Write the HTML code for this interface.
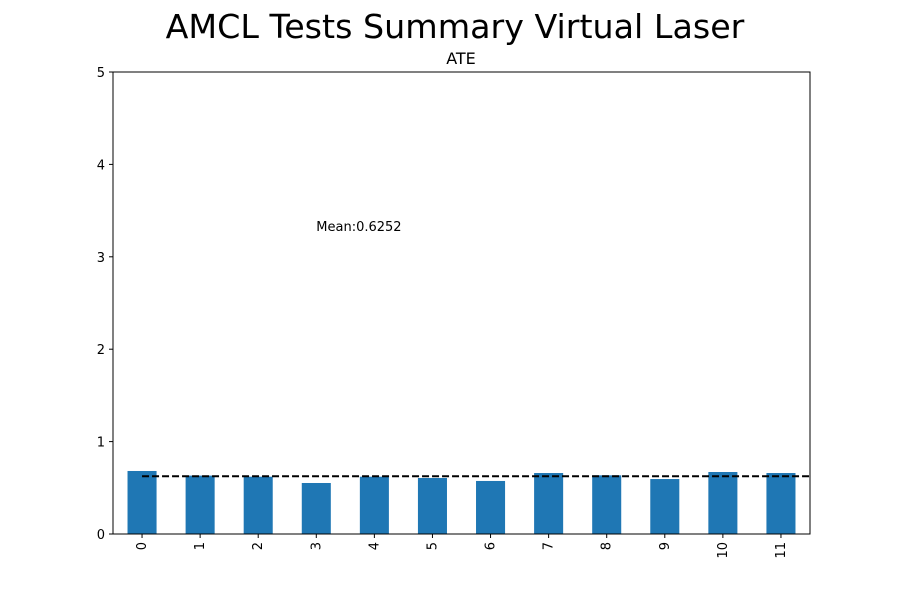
<!DOCTYPE html>
<html><head><meta charset="utf-8"><style>
body{margin:0;background:#fff;}
svg{font-family:"DejaVu Sans","Liberation Sans",sans-serif;}
</style></head><body>
<svg id="c" width="900" height="600"></svg>
<script>
const categories=["0","1","2","3","4","5","6","7","8","9","10","11"];
const ateValues=[0.682,0.632,0.620,0.552,0.620,0.606,0.574,0.660,0.635,0.595,0.671,0.660];
const meanValue=0.6252;
const yTicks=[0,1,2,3,4,5];
const NS="http://www.w3.org/2000/svg";
const svg=document.getElementById('c');
const L=113,R=810,T=72,B=534,ymax=5;
const band=(R-L)/categories.length;
const x=i=>L+band*(i+0.5);
const y=v=>B-(v/ymax)*(B-T);
function el(t,a,p){const e=document.createElementNS(NS,t);for(const k in a)e.setAttribute(k,a[k]);(p||svg).appendChild(e);return e;}
let t=el('text',{x:455,y:38,'text-anchor':'middle','font-size':33.3});t.textContent="AMCL Tests Summary Virtual Laser";


t=el('text',{x:461,y:64,'text-anchor':'middle','font-size':16});t.textContent="ATE";


categories.forEach((c,i)=>{
  const r=el('rect',{x:x(i)-band/4,y:y(ateValues[i]),width:band/2,height:B-y(ateValues[i]),fill:'#1f77b4'});
  
  
  el('line',{x1:x(i),x2:x(i),y1:B,y2:B+4,stroke:'#000','stroke-width':1});
  const tl=el('text',{transform:`translate(${x(i)+4},${B+8}) rotate(-90)`,'text-anchor':'end','font-size':13});tl.textContent=c;
  
  
});
yTicks.forEach(v=>{
  el('line',{x1:L-4,x2:L,y1:y(v),y2:y(v),stroke:'#000','stroke-width':1});
  const tl=el('text',{x:L-8,y:y(v)+5,'text-anchor':'end','font-size':13});tl.textContent=v;
  
  
});
const ml=el('line',{x1:x(0),x2:R,y1:y(meanValue),y2:y(meanValue),stroke:'#000','stroke-width':2,'stroke-dasharray':'7,3'});


t=el('text',{x:x(3),y:y(3.3)+2,'font-size':13});t.textContent="Mean:"+meanValue.toFixed(4);


const fr=el('rect',{x:L,y:T,width:R-L,height:B-T,fill:'none',stroke:'#000','stroke-width':1});


</script>
</body></html>
